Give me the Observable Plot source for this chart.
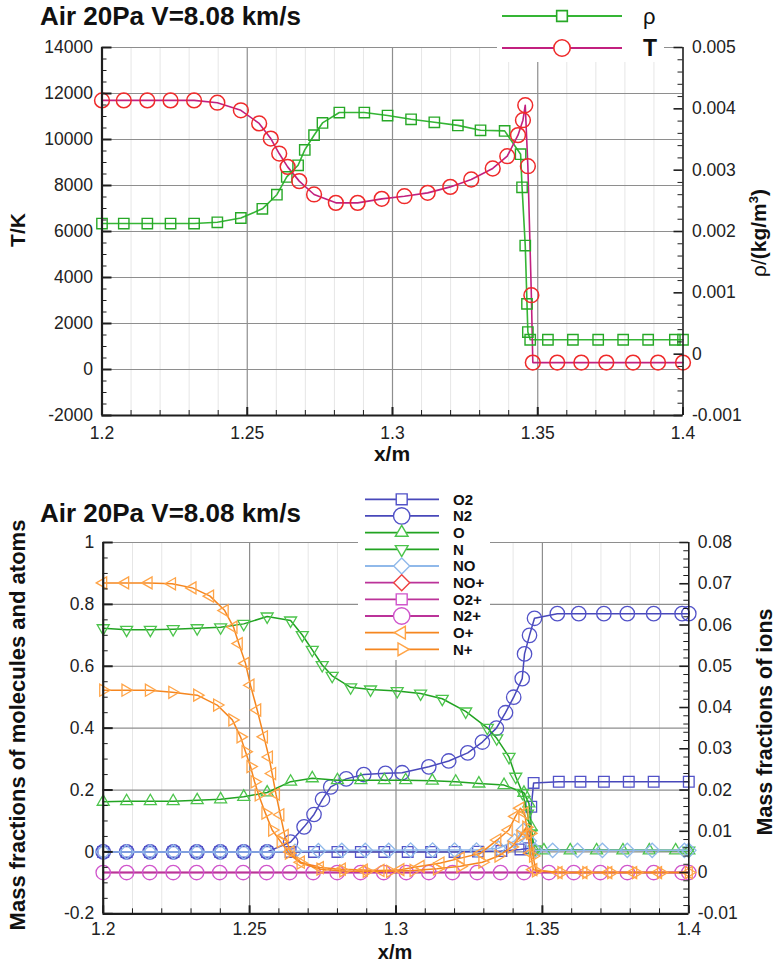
<!DOCTYPE html>
<html><head><meta charset="utf-8">
<script src="https://cdn.jsdelivr.net/npm/d3@7"></script>
<script src="https://cdn.jsdelivr.net/npm/@observablehq/plot@0.6"></script>
<style>
body{margin:0;background:#fff;}
#wrap{position:relative;width:777px;height:962px;overflow:hidden;background:#fff;font-family:"Liberation Sans",Arial,sans-serif;}
#top,#bot{position:absolute;left:0;}
#top{top:0;} #bot{top:470px;}
#ov{position:absolute;left:0;top:0;}
</style></head>
<body><div id="wrap"><div id="top"></div><div id="bot"></div><svg id="ov" width="777" height="962"></svg></div>
<script>
// ---------------- DATA ----------------
const chartTitle = "Air 20Pa V=8.08 km/s";
// top panel: temperature T (K) and density rho (kg/m^3)
const xTemp = [1.2, 1.2075, 1.2156, 1.2236, 1.2317, 1.2397, 1.2478, 1.2541, 1.2581, 1.2610, 1.2639, 1.2679, 1.2730, 1.2805, 1.2880, 1.2963, 1.3041, 1.3121, 1.3199, 1.3271, 1.3345, 1.3395, 1.3432, 1.3449, 1.3457, 1.3466, 1.3478, 1.3483, 1.3567, 1.3650, 1.3736, 1.3828, 1.3914, 1.4];
const temp  = [11700, 11700, 11700, 11700, 11700, 11600, 11270, 10700, 10040, 9390, 8810, 8190, 7610, 7245, 7245, 7420, 7535, 7680, 7940, 8260, 8740, 9275, 10190, 10840, 11490, 8840, 3230, 300, 300, 300, 300, 300, 300, 300];
const xRho = [1.2, 1.2075, 1.2156, 1.2236, 1.2317, 1.2397, 1.2478, 1.2552, 1.2602, 1.2636, 1.2675, 1.2698, 1.2730, 1.2759, 1.2817, 1.2903, 1.2983, 1.3064, 1.3144, 1.3225, 1.3303, 1.3386, 1.3441, 1.3446, 1.3457, 1.3463, 1.3466, 1.3474, 1.3535, 1.3621, 1.3708, 1.3794, 1.3880, 1.3972, 1.4];
const rho  = [0.00213, 0.00213, 0.00213, 0.00213, 0.00213, 0.00215, 0.00222, 0.00237, 0.00260, 0.00289, 0.00308, 0.00333, 0.00357, 0.00377, 0.00394, 0.00394, 0.00389, 0.00383, 0.00378, 0.00373, 0.00365, 0.00364, 0.00326, 0.00272, 0.00177, 0.00082, 0.00036, 0.000235, 0.000235, 0.000235, 0.000235, 0.000235, 0.000235, 0.000235, 0.000235];

// bottom panel, left axis (molecules and atoms)
const xO2 = [1.2, 1.208, 1.216, 1.224, 1.232, 1.240, 1.248, 1.256, 1.264, 1.272, 1.280, 1.288, 1.296, 1.304, 1.312, 1.320, 1.328, 1.336, 1.3425, 1.3455, 1.3462, 1.347, 1.3556, 1.3630, 1.3710, 1.3795, 1.3880, 1.4];
const O2  = [0, 0, 0, 0, 0, 0, 0, 0, 0, 0, 0, 0, 0, 0, 0, 0, 0.001, 0.003, 0.008, 0.012, 0.146, 0.223, 0.2266, 0.2266, 0.2266, 0.2266, 0.2266, 0.2266];
const xN2 = [1.2, 1.208, 1.216, 1.224, 1.232, 1.240, 1.248, 1.256, 1.264, 1.2686, 1.272, 1.2749, 1.2777, 1.283, 1.289, 1.2964, 1.3021, 1.3112, 1.318, 1.3245, 1.3295, 1.3343, 1.3374, 1.3402, 1.3431, 1.3439, 1.3456, 1.3473, 1.3551, 1.3624, 1.371, 1.379, 1.388, 1.3977, 1.4];
const N2  = [0, 0, 0, 0, 0, 0, 0, 0, 0.032, 0.081, 0.121, 0.170, 0.210, 0.236, 0.250, 0.254, 0.256, 0.275, 0.294, 0.320, 0.355, 0.40, 0.45, 0.50, 0.56, 0.64, 0.70, 0.755, 0.77, 0.77, 0.77, 0.77, 0.77, 0.77, 0.77];
const xO = [1.2, 1.208, 1.2161, 1.2239, 1.2321, 1.2401, 1.248, 1.256, 1.264, 1.2714, 1.28, 1.288, 1.296, 1.3033, 1.3124, 1.3204, 1.3283, 1.3369, 1.3437, 1.3454, 1.3462, 1.3472, 1.3505, 1.3595, 1.3685, 1.3775, 1.3865, 1.3955, 1.4];
const O  = [0.162, 0.164, 0.164, 0.164, 0.167, 0.170, 0.178, 0.192, 0.227, 0.238, 0.232, 0.232, 0.232, 0.232, 0.230, 0.227, 0.221, 0.216, 0.191, 0.157, 0.08, 0.006, 0.005, 0.005, 0.005, 0.005, 0.005, 0.005, 0.005];
const xN = [1.2, 1.208, 1.2161, 1.2239, 1.2321, 1.2401, 1.248, 1.256, 1.264, 1.268, 1.2714, 1.2748, 1.2782, 1.2845, 1.2913, 1.3004, 1.3084, 1.3158, 1.3238, 1.3312, 1.3344, 1.3386, 1.3409, 1.3432, 1.3449, 1.346, 1.3474, 1.4];
const N  = [0.723, 0.718, 0.718, 0.720, 0.723, 0.726, 0.737, 0.761, 0.748, 0.701, 0.653, 0.604, 0.569, 0.532, 0.525, 0.52, 0.512, 0.495, 0.454, 0.401, 0.367, 0.307, 0.243, 0.191, 0.124, 0.060, 0.008, 0.004];
const xNO = [1.2, 1.208, 1.216, 1.224, 1.232, 1.240, 1.248, 1.256, 1.2655, 1.2735, 1.2815, 1.2895, 1.2975, 1.305, 1.3125, 1.32, 1.3275, 1.335, 1.3405, 1.3435, 1.3455, 1.3475, 1.3535, 1.362, 1.3705, 1.379, 1.3875, 1.3985, 1.4];
const NO  = [0, 0, 0, 0, 0, 0, 0, 0, 0.002, 0.004, 0.005, 0.005, 0.005, 0.006, 0.006, 0.006, 0.006, 0.012, 0.035, 0.07, 0.035, 0.005, 0.005, 0.005, 0.005, 0.005, 0.005, 0.005, 0.005];

// bottom panel, right axis (ions)
const xNOp = [1.2, 1.4];
const NOp  = [0, 0];
const xO2p = [1.2, 1.4];
const O2p  = [0, 0];
const xN2p = [1.2, 1.208, 1.2159, 1.2239, 1.2319, 1.2398, 1.2478, 1.2558, 1.2637, 1.2717, 1.2799, 1.2879, 1.2958, 1.3035, 1.3112, 1.3193, 1.3277, 1.3357, 1.3437, 1.3522, 1.3607, 1.3698, 1.379, 1.388, 1.3977, 1.4];
const N2p  = [0, 0, 0, 0, 0, 0, 0, 0, 0, 0, 0, 0, 0, 0, 0, 0, 0, 0, 0, 0, 0, 0, 0, 0, 0, 0];
const xOp = [1.2, 1.2075, 1.2155, 1.2235, 1.2305, 1.2365, 1.2415, 1.2445, 1.2463, 1.2486, 1.2503, 1.2526, 1.2549, 1.2566, 1.2577, 1.259, 1.2605, 1.262, 1.264, 1.2675, 1.274, 1.2815, 1.289, 1.2947, 1.3015, 1.3084, 1.3152, 1.3221, 1.3289, 1.3346, 1.3385, 1.3408, 1.3425, 1.3439, 1.345, 1.3459, 1.3469, 1.3555, 1.364, 1.3725, 1.381, 1.3895, 1.4];
const Op  = [0.0702, 0.0702, 0.0702, 0.0700, 0.0690, 0.0670, 0.0635, 0.0595, 0.0555, 0.0507, 0.0454, 0.0394, 0.0329, 0.028, 0.024, 0.019, 0.014, 0.009, 0.005, 0.0025, 0.0012, 0.0008, 0.0006, 0.0005, 0.0007, 0.0015, 0.0023, 0.0035, 0.0047, 0.0079, 0.0103, 0.0136, 0.0156, 0.0144, 0.0095, 0.0047, 0.0007, 0, 0, 0, 0, 0, 0];
const xNp = [1.2, 1.2076, 1.2156, 1.2236, 1.2321, 1.2389, 1.2441, 1.2469, 1.2486, 1.2503, 1.2517, 1.2531, 1.2554, 1.2577, 1.2606, 1.2634, 1.2674, 1.2742, 1.282, 1.29, 1.298, 1.306, 1.314, 1.322, 1.3295, 1.335, 1.3395, 1.3425, 1.3445, 1.3458, 1.3468, 1.3478, 1.3565, 1.365, 1.3735, 1.382, 1.3905, 1.4];
const Np  = [0.0442, 0.0442, 0.0442, 0.0437, 0.0430, 0.0406, 0.0370, 0.0329, 0.0293, 0.0257, 0.0220, 0.0188, 0.0144, 0.0103, 0.0075, 0.0047, 0.0023, 0.0008, 0.0004, 0.0003, 0.0003, 0.0005, 0.0009, 0.0015, 0.0025, 0.004, 0.0062, 0.0088, 0.0110, 0.0095, 0.004, 0.0004, 0, 0, 0, 0, 0, 0];

// axes / ticks
const xMajorTicks = [1.2, 1.25, 1.3, 1.35, 1.4];
const xMinorTicks = [1.21, 1.22, 1.23, 1.24, 1.26, 1.27, 1.28, 1.29, 1.31, 1.32, 1.33, 1.34, 1.36, 1.37, 1.38, 1.39];
const tTicks = [-2000, 0, 2000, 4000, 6000, 8000, 10000, 12000, 14000];
const rhoTicks = [-0.001, 0, 0.001, 0.002, 0.003, 0.004, 0.005];
const leftTicks = [-0.2, 0, 0.2, 0.4, 0.6, 0.8, 1];
const ionTicks = [-0.01, 0, 0.01, 0.02, 0.03, 0.04, 0.05, 0.06, 0.07, 0.08];
const legendTop = ["ρ", "T"];
const speciesNames = ["O2", "N2", "O", "N", "NO", "NO+", "O2+", "N2+", "O+", "N+"];

// ---------------- helpers ----------------
const FONT = "'Liberation Sans', Arial, Helvetica, sans-serif";
function minorBetween(ticks, n){ const out=[]; for(let i=0;i<ticks.length-1;i++){const a=ticks[i],b=ticks[i+1]; for(let k=1;k<n;k++) out.push(a+(b-a)*k/n);} return out; }
const sqSym = {draw(ctx,size){const r=Math.sqrt(size/Math.PI)*0.72; ctx.moveTo(-r,-r);ctx.lineTo(r,-r);ctx.lineTo(r,r);ctx.lineTo(-r,r);ctx.closePath();}};
const diaSym = {draw(ctx,size){const r=Math.sqrt(size/Math.PI); ctx.moveTo(0,-r);ctx.lineTo(r,0);ctx.lineTo(0,r);ctx.lineTo(-r,0);ctx.closePath();}};
function triSym(deg){ return {draw(ctx,size){const r=Math.sqrt(size/Math.PI)*1.05; for(let k=0;k<3;k++){const a=(deg+k*120)*Math.PI/180; const px=r*Math.cos(a), py=r*Math.sin(a); if(k) ctx.lineTo(px,py); else ctx.moveTo(px,py);} ctx.closePath();}}; }
const triUp = triSym(-90), triDown = triSym(90), triLeft = triSym(180), triRight = triSym(0);

// ---------------- TOP PANEL ----------------
const TOP = {w:777, h:470, ml:101.5, mr:94.5, mt:47, mb:55};
const tDom = [-2000, 14000], rhoDom = [-0.001, 0.005];
const rho2T = r => tDom[0] + (r - rhoDom[0]) / (rhoDom[1] - rhoDom[0]) * (tDom[1] - tDom[0]);
const T2rho = t => rhoDom[0] + (t - tDom[0]) / (tDom[1] - tDom[0]) * (rhoDom[1] - rhoDom[0]);
const tPerPx = (tDom[1]-tDom[0]) / (TOP.h - TOP.mt - TOP.mb);
const xPerPxT = 0.2 / (TOP.w - TOP.ml - TOP.mr);
const tempRows = xTemp.map((x,i)=>({x, y: temp[i]}));
const rhoRows = xRho.map((x,i)=>({x, y: rho2T(rho[i])}));
const tMinor = minorBetween(tTicks, 4);
const rhoMinor = minorBetween(rhoTicks, 5).map(rho2T);
const AX = "#1e1e1e", GRID = "#8e8e8e", MINORGRID = "#e6e6e6";

const topPlot = Plot.plot({
  width: TOP.w, height: TOP.h, marginLeft: TOP.ml, marginRight: TOP.mr, marginTop: TOP.mt, marginBottom: TOP.mb,
  style: {fontFamily: FONT, fontSize: "17.5px", color: "#222", background: "transparent", overflow: "visible"},
  x: {domain: [1.2, 1.4]},
  y: {domain: tDom},
  marks: [
    Plot.ruleX(xMinorTicks, {stroke: MINORGRID, strokeWidth: 1}),
    Plot.ruleY(tTicks, {stroke: GRID, strokeWidth: 1.2}),
    Plot.ruleX([1.25, 1.3, 1.35], {stroke: GRID, strokeWidth: 1.2}),
    Plot.line(rhoRows, {x: "x", y: "y", stroke: "#35b535", strokeWidth: 1.6}),
    Plot.line(tempRows, {x: "x", y: "y", stroke: "#c2207f", strokeWidth: 1.6}),
    Plot.dot(rhoRows, {x: "x", y: "y", r: 7.2, symbol: sqSym, stroke: "#27a827", fill: "none", strokeWidth: 1.4}),
    Plot.dot(tempRows, {x: "x", y: "y", r: 7.4, symbol: "circle", stroke: "#ef2a2a", fill: "none", strokeWidth: 1.5}),
    // axis lines
    Plot.ruleX([1.2], {stroke: AX, strokeWidth: 2.2}),
    Plot.ruleX([1.4], {stroke: AX, strokeWidth: 1.6}),
    Plot.ruleY([tDom[0]], {stroke: AX, strokeWidth: 2.2}),
    // inward ticks
    Plot.ruleX(xMajorTicks, {y1: tDom[0], y2: tDom[0] + 8*tPerPx, stroke: AX, strokeWidth: 2}),
    Plot.ruleX(xMinorTicks, {y1: tDom[0], y2: tDom[0] + 5*tPerPx, stroke: AX, strokeWidth: 1}),
    Plot.ruleY(tTicks, {x1: 1.2, x2: 1.2 + 10*xPerPxT, stroke: AX, strokeWidth: 2}),
    Plot.ruleY(tMinor, {x1: 1.2, x2: 1.2 + 5*xPerPxT, stroke: AX, strokeWidth: 1}),
    Plot.ruleY(rhoTicks.map(rho2T), {x1: 1.4 - 9*xPerPxT, x2: 1.4, stroke: AX, strokeWidth: 1.6}),
    Plot.ruleY(rhoMinor, {x1: 1.4 - 5*xPerPxT, x2: 1.4, stroke: AX, strokeWidth: 1}),
    // tick labels
    Plot.axisX({ticks: xMajorTicks, tickSize: 0, tickPadding: 11, tickFormat: d => String(d), label: null}),
    Plot.axisY({ticks: tTicks, anchor: "left", tickSize: 0, tickPadding: 9, tickFormat: d => String(d), label: null}),
    Plot.axisY({ticks: rhoTicks.map(rho2T), anchor: "right", tickSize: 0, tickPadding: 9, tickFormat: d => String(Math.round(T2rho(d)*1e4)/1e4 || 0), label: null})
  ]
});
document.getElementById("top").appendChild(topPlot);

// ---------------- BOTTOM PANEL ----------------
const BOT = {w:777, h:492, ml:102.7, mr:88.7, mt:72, mb:48.7};
const lDom = [-0.2, 1], iDom = [-0.01, 0.08];
const ion2L = v => lDom[0] + (v - iDom[0]) / (iDom[1] - iDom[0]) * (lDom[1] - lDom[0]);
const L2ion = v => iDom[0] + (v - lDom[0]) / (lDom[1] - lDom[0]) * (iDom[1] - iDom[0]);
const lPerPx = (lDom[1]-lDom[0]) / (BOT.h - BOT.mt - BOT.mb);
const xPerPxB = 0.2 / (BOT.w - BOT.ml - BOT.mr);
const rowsL = (xs, ys) => xs.map((x,i)=>({x, y: ys[i]}));
const rowsI = (xs, ys) => xs.map((x,i)=>({x, y: ion2L(ys[i])}));
const lMinor = minorBetween(leftTicks, 4);
const ionMinor = minorBetween(ionTicks, 5).map(ion2L);

const BLUE = "#4848ba", BLUEM = "#5252c8", GREEN = "#22a322", GREENM = "#4cc44c", LBLUE = "#90b9ea", MAG = "#bb3399", MAGM = "#d055cc", RED = "#ee4040", ORANGE = "#f5861f", ORANGEM = "#ffa447";
const series = [
  {rows: rowsL(xO2, O2), line: BLUE, mk: BLUEM, sym: sqSym, r: 7.4},
  {rows: rowsL(xN2, N2), line: BLUE, mk: BLUEM, sym: "circle", r: 7.2},
  {rows: rowsL(xO, O), line: GREEN, mk: GREENM, sym: triUp, r: 6.6},
  {rows: rowsL(xN, N), line: GREEN, mk: GREENM, sym: triDown, r: 6.6},
  {rows: rowsL(xNO, NO), line: LBLUE, mk: LBLUE, sym: diaSym, r: 7.2},
  {rows: rowsI(xNOp, NOp), line: MAG, mk: null},
  {rows: rowsI(xO2p, O2p), line: MAG, mk: null},
  {rows: rowsI(xN2p, N2p), line: MAG, mk: MAGM, sym: "circle", r: 7.2},
  {rows: rowsI(xOp, Op), line: ORANGE, mk: ORANGEM, sym: triLeft, r: 6.6},
  {rows: rowsI(xNp, Np), line: ORANGE, mk: ORANGEM, sym: triRight, r: 6.6}
];
const seriesMarks = [];
for (const s of series) {
  seriesMarks.push(Plot.line(s.rows, {x: "x", y: "y", stroke: s.line, strokeWidth: 1.5}));
  if (s.mk) seriesMarks.push(Plot.dot(s.rows, {x: "x", y: "y", r: s.r, symbol: s.sym, stroke: s.mk, fill: "none", strokeWidth: 1.3}));
}

const botPlot = Plot.plot({
  width: BOT.w, height: BOT.h, marginLeft: BOT.ml, marginRight: BOT.mr, marginTop: BOT.mt, marginBottom: BOT.mb,
  style: {fontFamily: FONT, fontSize: "17.5px", color: "#222", background: "transparent", overflow: "visible"},
  x: {domain: [1.2, 1.4]},
  y: {domain: lDom},
  marks: [
    Plot.ruleX(xMinorTicks, {stroke: MINORGRID, strokeWidth: 1}),
    Plot.ruleY(leftTicks, {stroke: GRID, strokeWidth: 1.2}),
    Plot.ruleX([1.25, 1.3, 1.35], {stroke: GRID, strokeWidth: 1.2}),
    ...seriesMarks,
    Plot.ruleX([1.2], {stroke: AX, strokeWidth: 2.2}),
    Plot.ruleX([1.4], {stroke: AX, strokeWidth: 1.6}),
    Plot.ruleY([lDom[0]], {stroke: AX, strokeWidth: 2.2}),
    Plot.ruleX(xMajorTicks, {y1: lDom[0], y2: lDom[0] + 8*lPerPx, stroke: AX, strokeWidth: 2}),
    Plot.ruleX(xMinorTicks, {y1: lDom[0], y2: lDom[0] + 5*lPerPx, stroke: AX, strokeWidth: 1}),
    Plot.ruleY(leftTicks, {x1: 1.2, x2: 1.2 + 10*xPerPxB, stroke: AX, strokeWidth: 2}),
    Plot.ruleY(lMinor, {x1: 1.2, x2: 1.2 + 5*xPerPxB, stroke: AX, strokeWidth: 1}),
    Plot.ruleY(ionTicks.map(ion2L), {x1: 1.4 - 9*xPerPxB, x2: 1.4, stroke: AX, strokeWidth: 1.6}),
    Plot.ruleY(ionMinor, {x1: 1.4 - 5*xPerPxB, x2: 1.4, stroke: AX, strokeWidth: 1}),
    Plot.axisX({ticks: xMajorTicks, tickSize: 0, tickPadding: 9, tickFormat: d => String(d), label: null}),
    Plot.axisY({ticks: leftTicks, anchor: "left", tickSize: 0, tickPadding: 9, tickFormat: d => String(d), label: null}),
    Plot.axisY({ticks: ionTicks.map(ion2L), anchor: "right", tickSize: 0, tickPadding: 9, tickFormat: d => String(Math.round(L2ion(d)*1000)/1000 || 0), label: null})
  ]
});
document.getElementById("bot").appendChild(botPlot);

// ---------------- OVERLAY: titles, axis titles, legends ----------------
const ov = d3.select("#ov").style("font-family", FONT);
function txt(x, y, s, size, weight, anchor, rot){
  const t = ov.append("text").attr("font-size", size).attr("font-weight", weight).attr("fill", "#111").attr("text-anchor", anchor || "start");
  if (rot) t.attr("transform", `translate(${x},${y}) rotate(-90)`); else t.attr("x", x).attr("y", y);
  t.text(s); return t;
}
// titles
txt(40, 25, chartTitle, 26, "bold");
txt(40, 522, chartTitle, 26, "bold");
// axis titles top
txt(25, 230, "T/K", 21, "bold", "middle", true);
txt(392, 461, "x/m", 21, "bold", "middle");
const rl = ov.append("text").attr("transform", "translate(766,233) rotate(-90)").attr("text-anchor", "middle").attr("font-size", 21).attr("fill", "#111");
rl.append("tspan").text("ρ/");
rl.append("tspan").attr("font-weight", "bold").text("(kg/m");
rl.append("tspan").attr("font-weight", "bold").attr("font-size", 13).attr("dy", -8).text("3");
rl.append("tspan").attr("font-weight", "bold").attr("dy", 8).text(")");
// axis titles bottom
txt(25, 725, "Mass fractions of molecules and atoms", 22, "bold", "middle", true);
txt(772, 722, "Mass fractions of ions", 21.5, "bold", "middle", true);
txt(395, 959, "x/m", 20, "bold", "middle");

// symbol path helper for legends
function symPath(sym, r){ const s = typeof sym === "string" ? d3.symbolCircle : sym; return d3.symbol(s, r*r*Math.PI)(); }

// top legend
ov.append("rect").attr("x", 497).attr("y", 0).attr("width", 167).attr("height", 62).attr("fill", "#fff");
const topLeg = [
  {y: 16, line: "#35b535", mk: "#27a827", sym: sqSym, r: 7.4, label: legendTop[0], weight: "normal", size: 22},
  {y: 48, line: "#c2207f", mk: "#ef2a2a", sym: "circle", r: 8.2, label: legendTop[1], weight: "bold", size: 23}
];
for (const e of topLeg) {
  ov.append("line").attr("x1", 502).attr("x2", 622).attr("y1", e.y).attr("y2", e.y).attr("stroke", e.line).attr("stroke-width", 2);
  ov.append("path").attr("d", symPath(e.sym, e.r)).attr("transform", `translate(562,${e.y})`).attr("fill", "#fff").attr("stroke", e.mk).attr("stroke-width", 1.6);
  txt(643, e.y + 8, e.label, e.size, e.weight);
}

// bottom legend
ov.append("rect").attr("x", 358).attr("y", 489).attr("width", 132).attr("height", 171).attr("fill", "#fff");
const legStyles = [
  {line: BLUE, mk: BLUEM, sym: sqSym, r: 7.6},
  {line: BLUE, mk: BLUEM, sym: "circle", r: 8.2},
  {line: GREEN, mk: GREENM, sym: triUp, r: 7},
  {line: GREEN, mk: GREENM, sym: triDown, r: 7},
  {line: LBLUE, mk: LBLUE, sym: diaSym, r: 8},
  {line: MAG, mk: RED, sym: diaSym, r: 8},
  {line: MAG, mk: MAGM, sym: sqSym, r: 7.6},
  {line: MAG, mk: MAGM, sym: "circle", r: 8.2},
  {line: ORANGE, mk: ORANGEM, sym: triLeft, r: 7},
  {line: ORANGE, mk: ORANGEM, sym: triRight, r: 7}
];
speciesNames.forEach((name, i) => {
  const y = 499.3 + i * 16.67, st = legStyles[i];
  ov.append("line").attr("x1", 365).attr("x2", 439).attr("y1", y).attr("y2", y).attr("stroke", st.line).attr("stroke-width", 1.8);
  ov.append("path").attr("d", symPath(st.sym, st.r)).attr("transform", `translate(401.7,${y})`).attr("fill", "#fff").attr("stroke", st.mk).attr("stroke-width", 1.4);
  txt(453, y + 5.5, name, 15, "bold");
});
</script>
</body></html>
